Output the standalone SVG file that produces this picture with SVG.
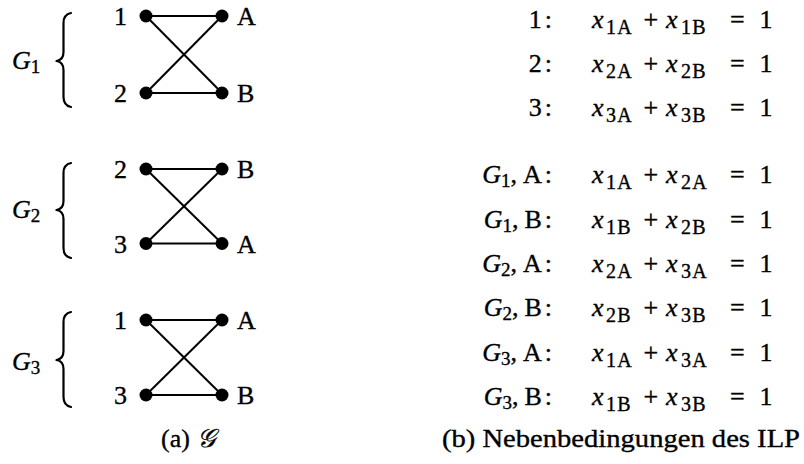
<svg xmlns="http://www.w3.org/2000/svg" width="804" height="464" viewBox="0 0 804 464">
  <style>
    text { font-family: "Liberation Serif", "DejaVu Serif", serif; font-size: 26px; fill: #000; stroke: #000; stroke-width: 0.35; }
    .it { font-style: italic; }
    .sub { font-size: 19px; }
    .esub { font-size: 20px; letter-spacing: 1.2px; }
    .cal { font-family: "DejaVu Serif", "Noto Sans", serif; font-style: italic; }
    .edge { stroke: #000; stroke-width: 2; fill: none; }
    .brace { stroke: #000; stroke-width: 2.2; fill: none; stroke-linecap: round; stroke-linejoin: round; }
    .dot { fill: #000; }
  </style>
  <rect width="804" height="464" fill="#fff"/>

  <!-- braces with graph names -->
  <g id="brace-g1">
    <path class="brace" d="M71,13 Q63.5,14.5 63.5,23 L63.5,52 Q63.5,60 56.5,61 Q63.5,62 63.5,70 L63.5,97 Q63.5,105.5 71,107"/>
    <text x="12" y="69"><tspan class="it">G</tspan><tspan class="sub" dy="4">1</tspan></text>
  </g>
  <g id="brace-g2">
    <path class="brace" d="M71,163 Q63.5,164.5 63.5,173 L63.5,201 Q63.5,209 56.5,210 Q63.5,211 63.5,219 L63.5,248 Q63.5,256.5 71,258"/>
    <text x="12" y="218"><tspan class="it">G</tspan><tspan class="sub" dy="4">2</tspan></text>
  </g>
  <g id="brace-g3">
    <path class="brace" d="M71,312 Q63.5,313.5 63.5,322 L63.5,351 Q63.5,359 56.5,360 Q63.5,361 63.5,369 L63.5,397 Q63.5,405.5 71,407"/>
    <text x="12" y="370"><tspan class="it">G</tspan><tspan class="sub" dy="4">3</tspan></text>
  </g>

  <!-- edges -->
  <g id="connectors">
    <line class="edge" x1="146" y1="16" x2="222" y2="16"/>
    <line class="edge" x1="146" y1="93" x2="222" y2="93"/>
    <line class="edge" x1="146" y1="16" x2="222" y2="93"/>
    <line class="edge" x1="146" y1="93" x2="222" y2="16"/>

    <line class="edge" x1="146" y1="169" x2="222" y2="169"/>
    <line class="edge" x1="146" y1="243.5" x2="222" y2="243.5"/>
    <line class="edge" x1="146" y1="169" x2="222" y2="243.5"/>
    <line class="edge" x1="146" y1="243.5" x2="222" y2="169"/>

    <line class="edge" x1="146" y1="320" x2="222" y2="320"/>
    <line class="edge" x1="146" y1="395" x2="222" y2="395"/>
    <line class="edge" x1="146" y1="320" x2="222" y2="395"/>
    <line class="edge" x1="146" y1="395" x2="222" y2="320"/>
  </g>

  <!-- vertices of G1 -->
  <g id="g1-1"><circle class="dot" cx="146" cy="16" r="6.5"/><text x="127" y="25" text-anchor="end">1</text></g>
  <g id="g1-2"><circle class="dot" cx="146" cy="93" r="6.5"/><text x="127" y="102" text-anchor="end">2</text></g>
  <g id="g1-A"><circle class="dot" cx="222" cy="16" r="6.5"/><text x="237" y="25">A</text></g>
  <g id="g1-B"><circle class="dot" cx="222" cy="93" r="6.5"/><text x="237" y="102">B</text></g>

  <!-- vertices of G2 -->
  <g id="g2-2"><circle class="dot" cx="146" cy="169" r="6.5"/><text x="127" y="178" text-anchor="end">2</text></g>
  <g id="g2-3"><circle class="dot" cx="146" cy="243.5" r="6.5"/><text x="127" y="252.5" text-anchor="end">3</text></g>
  <g id="g2-B"><circle class="dot" cx="222" cy="169" r="6.5"/><text x="237" y="178">B</text></g>
  <g id="g2-A"><circle class="dot" cx="222" cy="243.5" r="6.5"/><text x="237" y="252.5">A</text></g>

  <!-- vertices of G3 -->
  <g id="g3-1"><circle class="dot" cx="146" cy="320" r="6.5"/><text x="127" y="329" text-anchor="end">1</text></g>
  <g id="g3-3"><circle class="dot" cx="146" cy="395" r="6.5"/><text x="127" y="404" text-anchor="end">3</text></g>
  <g id="g3-A"><circle class="dot" cx="222" cy="320" r="6.5"/><text x="237" y="329">A</text></g>
  <g id="g3-B"><circle class="dot" cx="222" cy="395" r="6.5"/><text x="237" y="404">B</text></g>

  <text id="caption-a" x="161" y="447">(a) <tspan class="cal" x="197">𝒢</tspan></text>

  <!-- constraints: one per vertex -->
  <g id="constraints-vertices">
    <text x="552" y="28" text-anchor="end">1<tspan dx="3">:</tspan></text>
    <text y="28"><tspan class="it" x="592">x</tspan><tspan class="esub" x="606" dy="6">1A</tspan><tspan x="643.5" dy="-6">+</tspan><tspan class="it" x="666">x</tspan><tspan class="esub" x="681" dy="6">1B</tspan><tspan x="730" dy="-6">=</tspan><tspan x="759.5">1</tspan></text>

    <text x="552" y="72" text-anchor="end">2<tspan dx="3">:</tspan></text>
    <text y="72"><tspan class="it" x="592">x</tspan><tspan class="esub" x="606" dy="6">2A</tspan><tspan x="643.5" dy="-6">+</tspan><tspan class="it" x="666">x</tspan><tspan class="esub" x="681" dy="6">2B</tspan><tspan x="730" dy="-6">=</tspan><tspan x="759.5">1</tspan></text>

    <text x="552" y="116" text-anchor="end">3<tspan dx="3">:</tspan></text>
    <text y="116"><tspan class="it" x="592">x</tspan><tspan class="esub" x="606" dy="6">3A</tspan><tspan x="643.5" dy="-6">+</tspan><tspan class="it" x="666">x</tspan><tspan class="esub" x="681" dy="6">3B</tspan><tspan x="730" dy="-6">=</tspan><tspan x="759.5">1</tspan></text>
  </g>

  <!-- constraints: one per graph and side -->
  <g id="constraints-graphs">
    <text x="552" y="183" text-anchor="end"><tspan class="it">G</tspan><tspan class="sub" dy="4">1</tspan><tspan dy="-4">,</tspan><tspan dx="6">A</tspan><tspan dx="3">:</tspan></text>
    <text y="183"><tspan class="it" x="592">x</tspan><tspan class="esub" x="606" dy="6">1A</tspan><tspan x="643.5" dy="-6">+</tspan><tspan class="it" x="666">x</tspan><tspan class="esub" x="681" dy="6">2A</tspan><tspan x="730" dy="-6">=</tspan><tspan x="759.5">1</tspan></text>

    <text x="552" y="227.5" text-anchor="end"><tspan class="it">G</tspan><tspan class="sub" dy="4">1</tspan><tspan dy="-4">,</tspan><tspan dx="6">B</tspan><tspan dx="3">:</tspan></text>
    <text y="227.5"><tspan class="it" x="592">x</tspan><tspan class="esub" x="606" dy="6">1B</tspan><tspan x="643.5" dy="-6">+</tspan><tspan class="it" x="666">x</tspan><tspan class="esub" x="681" dy="6">2B</tspan><tspan x="730" dy="-6">=</tspan><tspan x="759.5">1</tspan></text>

    <text x="552" y="272" text-anchor="end"><tspan class="it">G</tspan><tspan class="sub" dy="4">2</tspan><tspan dy="-4">,</tspan><tspan dx="6">A</tspan><tspan dx="3">:</tspan></text>
    <text y="272"><tspan class="it" x="592">x</tspan><tspan class="esub" x="606" dy="6">2A</tspan><tspan x="643.5" dy="-6">+</tspan><tspan class="it" x="666">x</tspan><tspan class="esub" x="681" dy="6">3A</tspan><tspan x="730" dy="-6">=</tspan><tspan x="759.5">1</tspan></text>

    <text x="552" y="316" text-anchor="end"><tspan class="it">G</tspan><tspan class="sub" dy="4">2</tspan><tspan dy="-4">,</tspan><tspan dx="6">B</tspan><tspan dx="3">:</tspan></text>
    <text y="316"><tspan class="it" x="592">x</tspan><tspan class="esub" x="606" dy="6">2B</tspan><tspan x="643.5" dy="-6">+</tspan><tspan class="it" x="666">x</tspan><tspan class="esub" x="681" dy="6">3B</tspan><tspan x="730" dy="-6">=</tspan><tspan x="759.5">1</tspan></text>

    <text x="552" y="360.5" text-anchor="end"><tspan class="it">G</tspan><tspan class="sub" dy="4">3</tspan><tspan dy="-4">,</tspan><tspan dx="6">A</tspan><tspan dx="3">:</tspan></text>
    <text y="360.5"><tspan class="it" x="592">x</tspan><tspan class="esub" x="606" dy="6">1A</tspan><tspan x="643.5" dy="-6">+</tspan><tspan class="it" x="666">x</tspan><tspan class="esub" x="681" dy="6">3A</tspan><tspan x="730" dy="-6">=</tspan><tspan x="759.5">1</tspan></text>

    <text x="552" y="405" text-anchor="end"><tspan class="it">G</tspan><tspan class="sub" dy="4">3</tspan><tspan dy="-4">,</tspan><tspan dx="6">B</tspan><tspan dx="3">:</tspan></text>
    <text y="405"><tspan class="it" x="592">x</tspan><tspan class="esub" x="606" dy="6">1B</tspan><tspan x="643.5" dy="-6">+</tspan><tspan class="it" x="666">x</tspan><tspan class="esub" x="681" dy="6">3B</tspan><tspan x="730" dy="-6">=</tspan><tspan x="759.5">1</tspan></text>
  </g>

  <text id="caption-b" x="442" y="447" textLength="358" lengthAdjust="spacingAndGlyphs">(b) Nebenbedingungen des ILP</text>
</svg>
